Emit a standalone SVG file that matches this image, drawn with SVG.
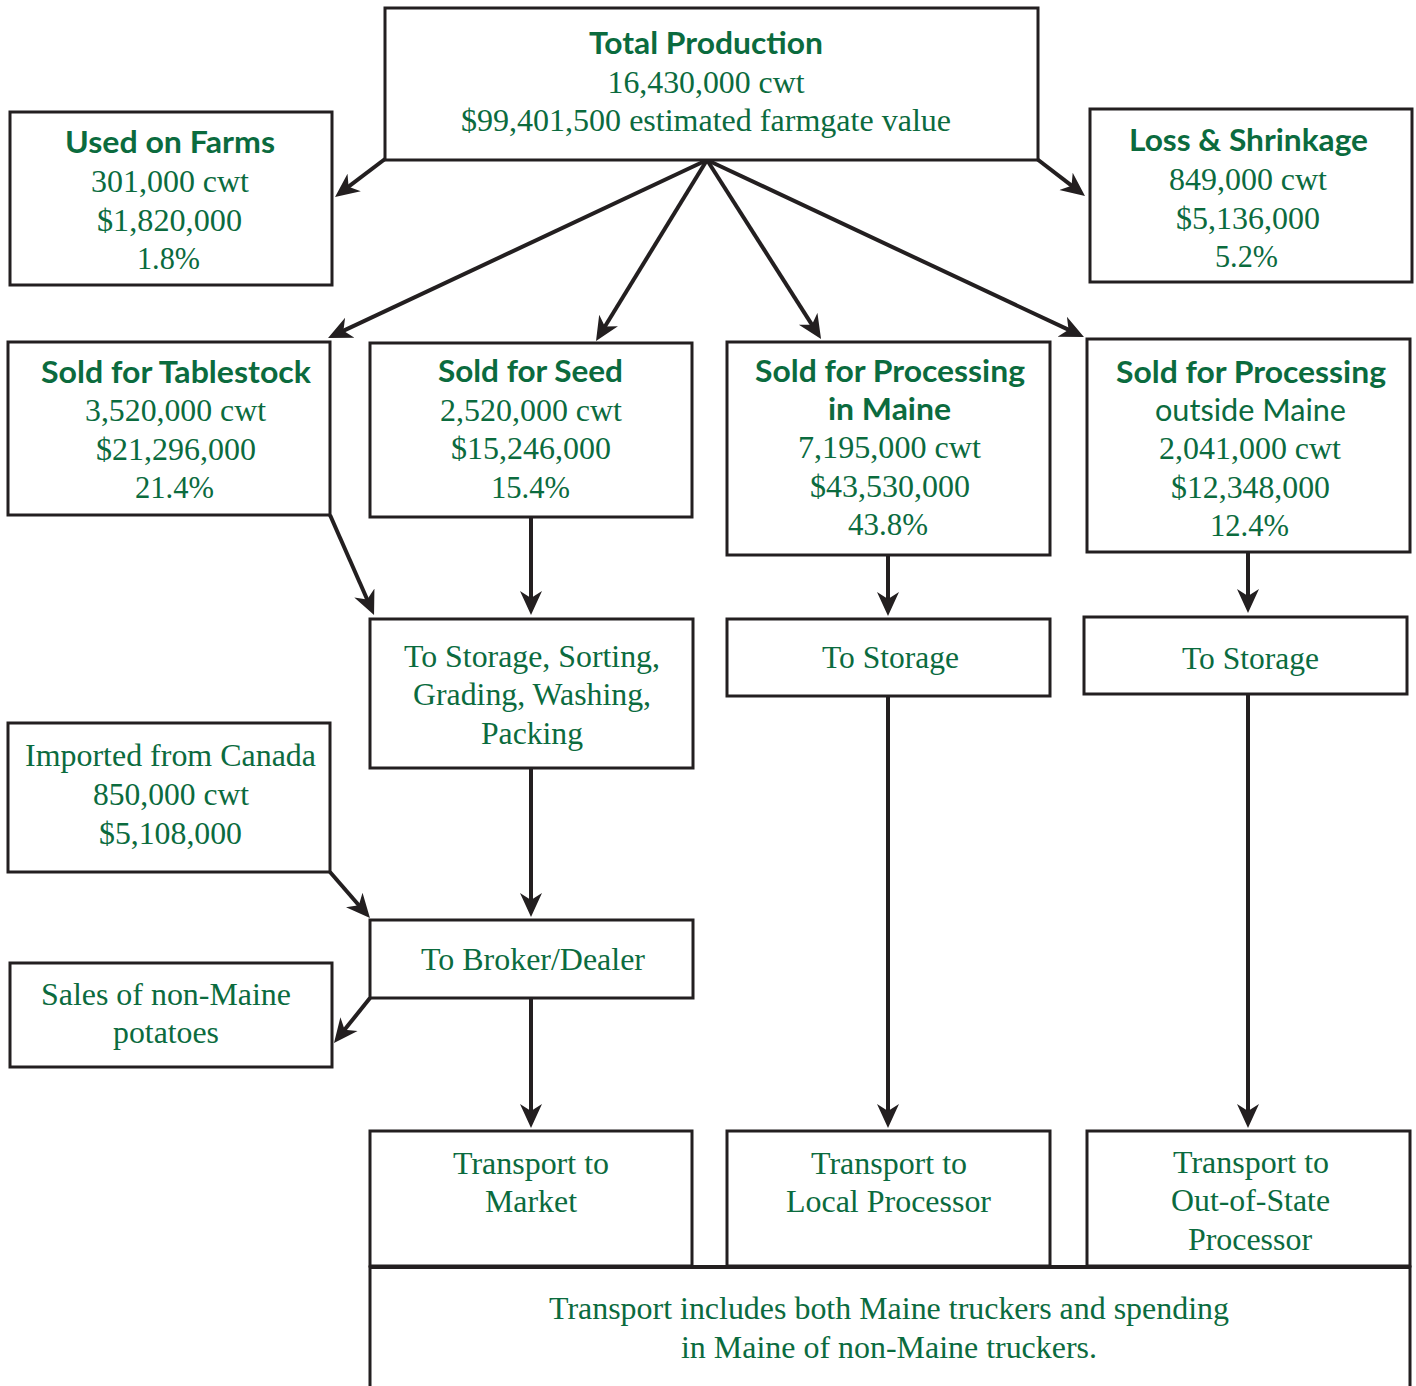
<svg xmlns="http://www.w3.org/2000/svg" width="1416" height="1386" viewBox="0 0 1416 1386">
<style>
.box{fill:#fff;stroke:#231f20;stroke-width:3}
.t{font-family:"Liberation Serif","Times New Roman",serif;font-size:32px;fill:#0b6b3e;text-anchor:middle}
.b{font-family:Lato,"Open Sans",sans-serif;font-weight:bold;font-size:31px;fill:#0b6b3e;text-anchor:middle}
.s{font-family:Lato,"Open Sans",sans-serif;font-size:31px;fill:#0b6b3e;text-anchor:middle}
.c{fill:none;stroke:#231f20;stroke-width:4;marker-end:url(#ah)}
</style>
<defs>
<marker id="ah" markerUnits="userSpaceOnUse" markerWidth="26" markerHeight="24" viewBox="0 0 26 24" refX="12" refY="12" orient="auto">
<path d="M0,1 L24,12 L0,23 L7,12 z" fill="#231f20"/>
</marker>
</defs>
<rect width="1416" height="1386" fill="#fff"/>

<g id="connectors">
<line class="c" x1="385" y1="159" x2="344.6" y2="189.7"/>
<line class="c" x1="1037" y1="159" x2="1075.5" y2="188.7"/>
<line class="c" x1="707" y1="160" x2="338.9" y2="332.9"/>
<line class="c" x1="707" y1="160" x2="602.3" y2="330.8"/>
<line class="c" x1="707" y1="160" x2="814.6" y2="328.9"/>
<line class="c" x1="707" y1="160" x2="1073.1" y2="331.9"/>
<line class="c" x1="330" y1="515" x2="369.2" y2="604"/>
<line class="c" x1="531" y1="517" x2="531" y2="603"/>
<line class="c" x1="888" y1="555" x2="888" y2="604"/>
<line class="c" x1="1248" y1="552" x2="1248" y2="601"/>
<line class="c" x1="531" y1="768" x2="531" y2="905"/>
<line class="c" x1="330" y1="872" x2="362.1" y2="909"/>
<line class="c" x1="370" y1="998" x2="341.5" y2="1033.6"/>
<line class="c" x1="531" y1="998" x2="531" y2="1116"/>
<line class="c" x1="888" y1="696" x2="888" y2="1116"/>
<line class="c" x1="1248" y1="694" x2="1248" y2="1116"/>
</g>

<g id="total">
<rect class="box" x="385" y="8" width="653" height="152"/>
<text class="b" x="706" y="54" textLength="234" lengthAdjust="spacingAndGlyphs">Total Production</text>
<text class="t" x="706" y="93" textLength="197" lengthAdjust="spacingAndGlyphs">16,430,000 cwt</text>
<text class="t" x="706" y="131" textLength="490" lengthAdjust="spacingAndGlyphs">$99,401,500 estimated farmgate value</text>
</g>

<g id="farms">
<rect class="box" x="10" y="112" width="322" height="173"/>
<text class="b" x="170" y="153" textLength="210" lengthAdjust="spacingAndGlyphs">Used on Farms</text>
<text class="t" x="170" y="192" textLength="158" lengthAdjust="spacingAndGlyphs">301,000 cwt</text>
<text class="t" x="169.5" y="231" textLength="145" lengthAdjust="spacingAndGlyphs">$1,820,000</text>
<text class="t" x="168.5" y="269" textLength="63" lengthAdjust="spacingAndGlyphs">1.8%</text>
</g>

<g id="loss">
<rect class="box" x="1090" y="109" width="322" height="173"/>
<text class="b" x="1248.5" y="151" textLength="239" lengthAdjust="spacingAndGlyphs">Loss &amp; Shrinkage</text>
<text class="t" x="1248" y="190" textLength="158" lengthAdjust="spacingAndGlyphs">849,000 cwt</text>
<text class="t" x="1248" y="229" textLength="144" lengthAdjust="spacingAndGlyphs">$5,136,000</text>
<text class="t" x="1246.5" y="267" textLength="63" lengthAdjust="spacingAndGlyphs">5.2%</text>
</g>

<g id="tablestock">
<rect class="box" x="8" y="342" width="322" height="173"/>
<text class="b" x="176" y="383" textLength="270" lengthAdjust="spacingAndGlyphs">Sold for Tablestock</text>
<text class="t" x="175.5" y="421" textLength="181" lengthAdjust="spacingAndGlyphs">3,520,000 cwt</text>
<text class="t" x="176" y="460" textLength="160" lengthAdjust="spacingAndGlyphs">$21,296,000</text>
<text class="t" x="174.5" y="498" textLength="79" lengthAdjust="spacingAndGlyphs">21.4%</text>
</g>

<g id="seed">
<rect class="box" x="370" y="343" width="322" height="174"/>
<text class="b" x="530.5" y="382" textLength="185" lengthAdjust="spacingAndGlyphs">Sold for Seed</text>
<text class="t" x="531" y="421" textLength="182" lengthAdjust="spacingAndGlyphs">2,520,000 cwt</text>
<text class="t" x="531" y="459" textLength="160" lengthAdjust="spacingAndGlyphs">$15,246,000</text>
<text class="t" x="530.5" y="498" textLength="79" lengthAdjust="spacingAndGlyphs">15.4%</text>
</g>

<g id="proc-maine">
<rect class="box" x="727" y="342" width="323" height="213"/>
<text class="b" x="890" y="382" textLength="270" lengthAdjust="spacingAndGlyphs">Sold for Processing</text>
<text class="b" x="889.5" y="420" textLength="123" lengthAdjust="spacingAndGlyphs">in Maine</text>
<text class="t" x="889.5" y="458" textLength="183" lengthAdjust="spacingAndGlyphs">7,195,000 cwt</text>
<text class="t" x="890" y="497" textLength="160" lengthAdjust="spacingAndGlyphs">$43,530,000</text>
<text class="t" x="888" y="535" textLength="80" lengthAdjust="spacingAndGlyphs">43.8%</text>
</g>

<g id="proc-outside">
<rect class="box" x="1087" y="339" width="323" height="213"/>
<text class="b" x="1251" y="383" textLength="270" lengthAdjust="spacingAndGlyphs">Sold for Processing</text>
<text class="s" x="1250.5" y="421" textLength="191" lengthAdjust="spacingAndGlyphs">outside Maine</text>
<text class="t" x="1250" y="459" textLength="182" lengthAdjust="spacingAndGlyphs">2,041,000 cwt</text>
<text class="t" x="1250.5" y="498" textLength="159" lengthAdjust="spacingAndGlyphs">$12,348,000</text>
<text class="t" x="1249.5" y="536" textLength="79" lengthAdjust="spacingAndGlyphs">12.4%</text>
</g>

<g id="storage-sorting">
<rect class="box" x="370" y="619" width="323" height="149"/>
<text class="t" x="532" y="667" textLength="256" lengthAdjust="spacingAndGlyphs">To Storage, Sorting,</text>
<text class="t" x="532" y="705" textLength="238" lengthAdjust="spacingAndGlyphs">Grading, Washing,</text>
<text class="t" x="532" y="744" textLength="102" lengthAdjust="spacingAndGlyphs">Packing</text>
</g>

<g id="storage-maine">
<rect class="box" x="727" y="619" width="323" height="77"/>
<text class="t" x="890.5" y="668" textLength="137" lengthAdjust="spacingAndGlyphs">To Storage</text>
</g>

<g id="storage-outside">
<rect class="box" x="1084" y="617" width="323" height="77"/>
<text class="t" x="1250.5" y="669" textLength="137" lengthAdjust="spacingAndGlyphs">To Storage</text>
</g>

<g id="canada">
<rect class="box" x="8" y="723" width="322" height="149"/>
<text class="t" x="170.5" y="766" textLength="291" lengthAdjust="spacingAndGlyphs">Imported from Canada</text>
<text class="t" x="171" y="805" textLength="156" lengthAdjust="spacingAndGlyphs">850,000 cwt</text>
<text class="t" x="170.5" y="844" textLength="143" lengthAdjust="spacingAndGlyphs">$5,108,000</text>
</g>

<g id="broker">
<rect class="box" x="370" y="920" width="323" height="78"/>
<text class="t" x="533" y="970" textLength="224" lengthAdjust="spacingAndGlyphs">To Broker/Dealer</text>
</g>

<g id="non-maine">
<rect class="box" x="10" y="963" width="322" height="104"/>
<text class="t" x="166" y="1005" textLength="250" lengthAdjust="spacingAndGlyphs">Sales of non-Maine</text>
<text class="t" x="166" y="1043" textLength="106" lengthAdjust="spacingAndGlyphs">potatoes</text>
</g>

<g id="transport-market">
<rect class="box" x="370" y="1131" width="322" height="135"/>
<text class="t" x="531" y="1174" textLength="156" lengthAdjust="spacingAndGlyphs">Transport to</text>
<text class="t" x="531" y="1212" textLength="92" lengthAdjust="spacingAndGlyphs">Market</text>
</g>

<g id="transport-local">
<rect class="box" x="727" y="1131" width="323" height="135"/>
<text class="t" x="889" y="1174" textLength="156" lengthAdjust="spacingAndGlyphs">Transport to</text>
<text class="t" x="888.5" y="1212" textLength="205" lengthAdjust="spacingAndGlyphs">Local Processor</text>
</g>

<g id="transport-outside">
<rect class="box" x="1087" y="1131" width="323" height="135"/>
<text class="t" x="1251" y="1173" textLength="156" lengthAdjust="spacingAndGlyphs">Transport to</text>
<text class="t" x="1250.5" y="1211" textLength="159" lengthAdjust="spacingAndGlyphs">Out-of-State</text>
<text class="t" x="1250" y="1250" textLength="124" lengthAdjust="spacingAndGlyphs">Processor</text>
</g>

<g id="note">
<rect class="box" x="370" y="1267" width="1040" height="130"/>
<line x1="369" y1="1267" x2="1411" y2="1267" stroke="#231f20" stroke-width="4"/>
<text class="t" x="889" y="1319" textLength="680" lengthAdjust="spacingAndGlyphs">Transport includes both Maine truckers and spending</text>
<text class="t" x="889" y="1358" textLength="416" lengthAdjust="spacingAndGlyphs">in Maine of non-Maine truckers.</text>
</g>
</svg>
